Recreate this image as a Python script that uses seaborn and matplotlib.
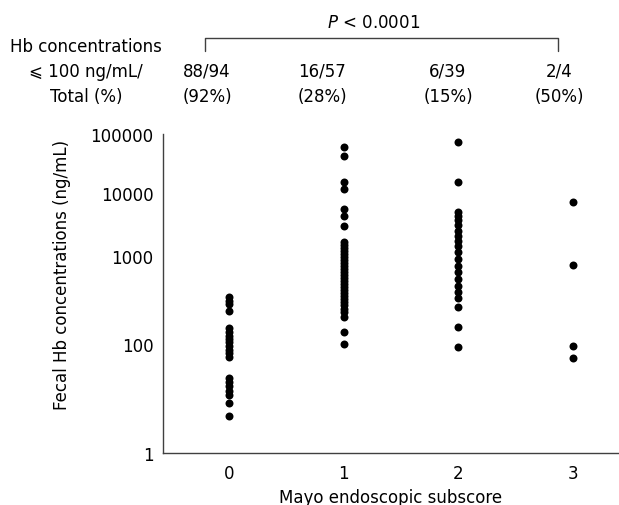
import numpy as np
import pandas as pd
import matplotlib
matplotlib.use("Agg")
import matplotlib.pyplot as plt
from matplotlib.lines import Line2D
import seaborn as sns

# ---------------- data ----------------
categories = [0, 1, 2, 3]
tick_labels_x = ["0", "1", "2", "3"]
group0 = [340, 310, 285, 235, 152, 137, 123, 114, 105, 92, 78, 68, 58,
          24, 20, 17, 13.7, 11.6, 8.3, 4.8]
group1 = [61000, 43000, 15300, 11700, 5570, 4370, 2960, 1670, 1500, 1340,
          1200, 1080, 975, 900, 830, 770, 710, 655, 610, 562, 520, 480, 445,
          411, 380, 351, 325, 300, 277, 250, 231, 203, 136, 100]
group2 = [74000, 15200, 5050, 4320, 3730, 3100, 2520, 2100, 1750, 1440, 1160,
          925, 775, 652, 548, 460, 387, 330, 261, 155, 89.5]
group3 = [7280, 795, 91, 55]
y_ticks = [1, 100, 1000, 10000, 100000]
y_tick_labels = ["1", "100", "1000", "10000", "100000"]
count_labels = ["88/94", "16/57", "6/39", "2/4"]
pct_labels = ["(92%)", "(28%)", "(15%)", "(50%)"]
p_label = "$P$ < 0.0001"

groups = [group0, group1, group2, group3]
df = pd.DataFrame({
    "score": np.concatenate([[c] * len(g) for c, g in zip(categories, groups)]),
    "hb": np.concatenate(groups),
})

# ---------------- style ----------------
sns.set_style("white")
plt.rcParams["font.family"] = ["DejaVu Sans", "Noto Sans CJK SC"]
plt.rcParams["font.size"] = 12
plt.rcParams["text.color"] = "black"
plt.rcParams["axes.labelcolor"] = "black"
plt.rcParams["xtick.color"] = "black"
plt.rcParams["ytick.color"] = "black"

W, H = 619, 506
fig = plt.figure(figsize=(W / 100, H / 100), dpi=100)
ax = fig.add_axes([163 / W, 1 - 454 / H, (618 - 163) / W, 319 / H])

# non-uniform log axis, calibrated to the reference's label spacing
LOG_NODES = [-10, 0, 2, 3, 4, 5, 15]
POS_NODES = [-545, 0, 109, 197, 260, 319, 909]


def fwd(v):
    v = np.asarray(v, dtype=float)
    return np.interp(np.log10(np.clip(v, 1e-300, None)), LOG_NODES, POS_NODES)


def inv(u):
    u = np.asarray(u, dtype=float)
    return 10 ** np.interp(u, POS_NODES, LOG_NODES)


ax.set_yscale("function", functions=(fwd, inv))

sns.scatterplot(data=df, x="score", y="hb", color="black", s=33,
                linewidth=0, ax=ax, legend=False, zorder=3)

ax.set_ylim(1, 100000)
ax.set_xlim(-0.5756, 3.392)
ax.set_yticks(y_ticks)
ax.set_yticklabels(y_tick_labels)
ax.yaxis.set_minor_locator(matplotlib.ticker.NullLocator())
ax.set_xticks(categories)
ax.set_xticklabels(tick_labels_x)
ax.tick_params(axis="both", length=0, labelsize=12, colors="black")
ax.tick_params(axis="x", pad=8)
ax.tick_params(axis="y", pad=7)

for side in ["top", "right"]:
    ax.spines[side].set_visible(False)
for side in ["left", "bottom"]:
    ax.spines[side].set_color("#404040")
    ax.spines[side].set_linewidth(1.0)

ax.set_xlabel("Mayo endoscopic subscore", fontsize=12, labelpad=4, color="black")
ax.set_ylabel("Fecal Hb concentrations (ng/mL)", fontsize=12, color="black")
ax.yaxis.set_label_coords(-0.202, 0.561)


def fx(px):
    return px / W


def fy(py):
    return 1 - py / H


# header texts
fig.text(fx(374), fy(23), p_label, ha="center", va="center", fontsize=12)
fig.text(fx(86), fy(47), "Hb concentrations", ha="center", va="center", fontsize=12)
fig.text(fx(86), fy(72), "\u2a7d 100 ng/mL/", ha="center", va="center", fontsize=12)
fig.text(fx(86), fy(97), "Total (%)", ha="center", va="center", fontsize=12)

label_x = [207, 322, 448, 559]
for lx, c, p in zip(label_x, count_labels, pct_labels):
    fig.text(fx(lx), fy(72), c, ha="center", va="center", fontsize=12)
    fig.text(fx(lx), fy(97), p, ha="center", va="center", fontsize=12)

# bracket
bx = [fx(205), fx(205), fx(558), fx(558)]
by = [fy(52), fy(39), fy(39), fy(52)]
fig.add_artist(Line2D(bx, by, transform=fig.transFigure, color="#404040", lw=1.0))

fig.savefig("out.png", dpi=100)
